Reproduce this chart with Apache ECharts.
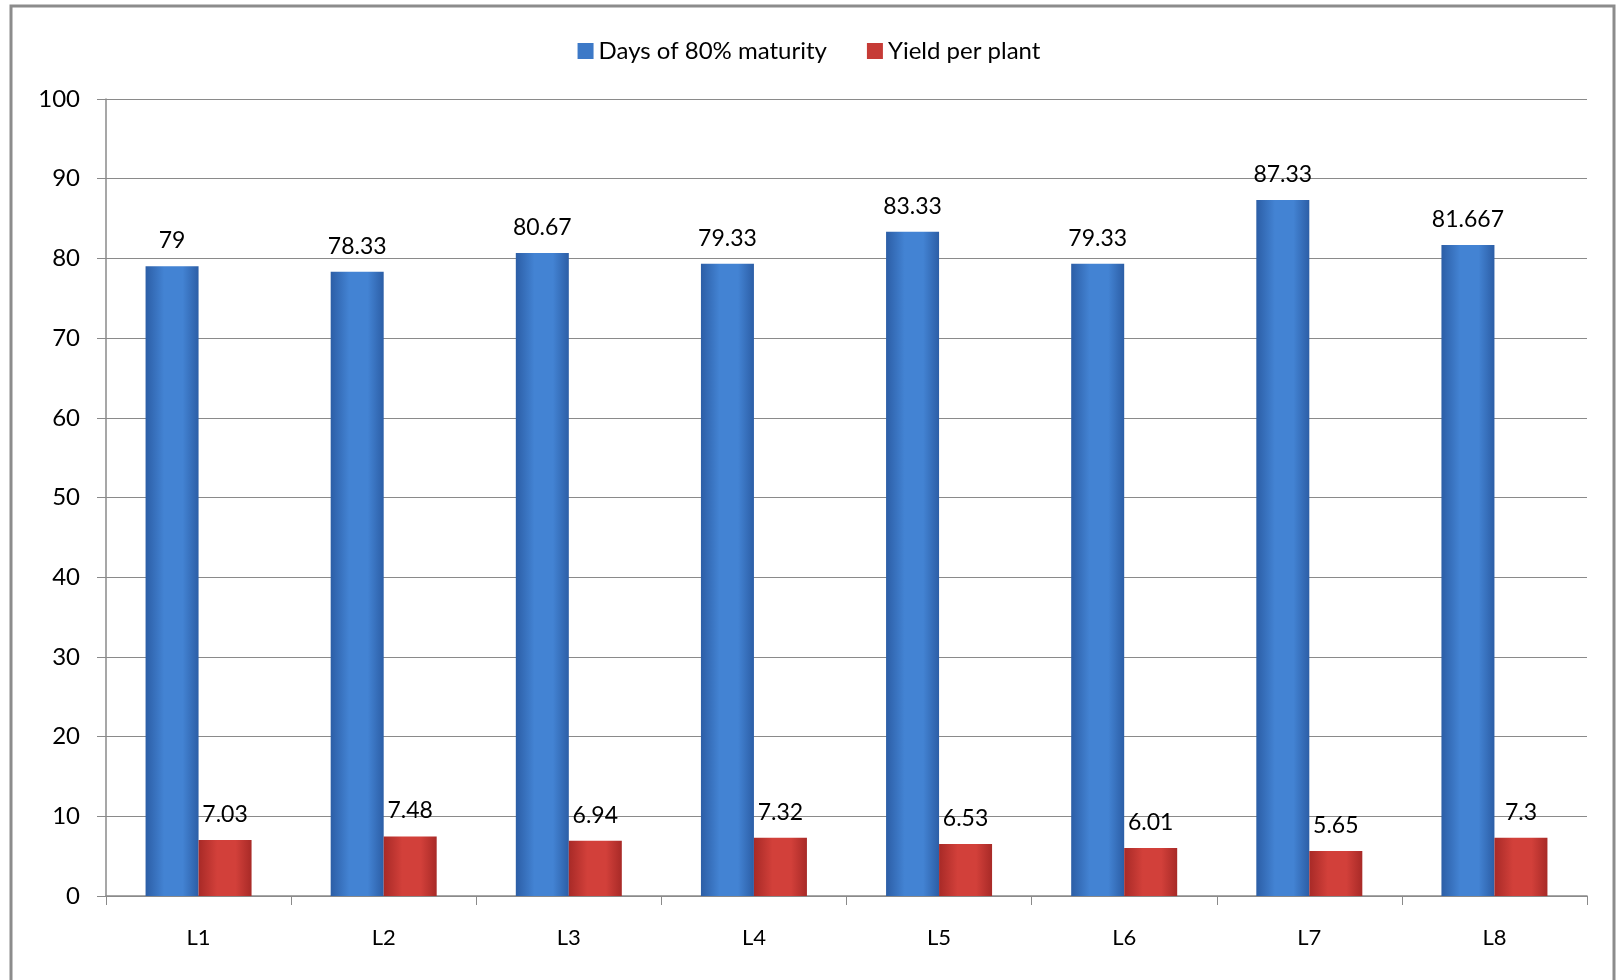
<!DOCTYPE html>
<html>
<head>
<meta charset="utf-8">
<script src="https://cdn.jsdelivr.net/npm/echarts@6/dist/echarts.min.js"></script>
<style>
  html, body { margin: 0; padding: 0; background: #fff; }
  #main { width: 1618px; height: 980px; }
</style>
</head>
<body>
<div id="main"></div>
<script>
var lines = ['L1', 'L2', 'L3', 'L4', 'L5', 'L6', 'L7', 'L8'];
var daysMaturity = [79, 78.33, 80.67, 79.33, 83.33, 79.33, 87.33, 81.667];
var yieldPlant = [7.03, 7.48, 6.94, 7.32, 6.53, 6.01, 5.65, 7.3];
var yTicks = [0, 100, 10]; // min, max, interval

var chart = echarts.init(document.getElementById('main'));

// glossy look: darker edges, lighter middle
function barColor(edge, mid) {
  return new echarts.graphic.LinearGradient(0, 0, 1, 0, [
    { offset: 0, color: edge },
    { offset: 0.35, color: mid },
    { offset: 0.7, color: mid },
    { offset: 1, color: edge }
  ]);
}

var font = 'Lato';

var option = {
  animation: false,
  backgroundColor: '#fff',
  graphic: [{
    type: 'rect',
    shape: { x: 11, y: 6, width: 1603, height: 980 },
    style: { fill: 'none', stroke: '#8c8c8c', lineWidth: 3 },
    silent: true
  }],
  legend: {
    top: 34,
    left: 'center',
    itemWidth: 16,
    itemHeight: 16,
    itemGap: 40,
    textStyle: { fontFamily: font, fontSize: 24, color: '#000' },
    data: [
      { name: 'Days of 80% maturity', icon: 'rect', itemStyle: { color: '#3d79c7' } },
      { name: 'Yield per plant', icon: 'rect', itemStyle: { color: '#c63b36' } }
    ]
  },
  grid: {
    left: 106,
    right: 31,
    top: 99,
    bottom: 84,
    containLabel: false
  },
  xAxis: {
    type: 'category',
    data: lines,
    axisLine: { lineStyle: { color: '#8a8a8a', width: 1.5 } },
    axisTick: { show: true, length: 9, lineStyle: { color: '#8a8a8a' } },
    axisLabel: { fontFamily: font, fontSize: 22, color: '#000', margin: 31 }
  },
  yAxis: {
    type: 'value',
    min: yTicks[0],
    max: yTicks[1],
    interval: yTicks[2],
    axisLine: { show: true, lineStyle: { color: '#8a8a8a', width: 1.5 } },
    axisTick: { show: true, length: 9, lineStyle: { color: '#8a8a8a' } },
    splitLine: { lineStyle: { color: '#8a8a8a', width: 1.2 } },
    axisLabel: { fontFamily: font, fontSize: 24, color: '#000', margin: 26 }
  },
  series: [
    {
      name: 'Days of 80% maturity',
      type: 'bar',
      data: daysMaturity,
      barWidth: 53,
      barGap: '0%',
      itemStyle: {
        color: barColor('#2c5ea6', '#4383d3')
      },
      label: {
        show: true,
        position: 'top',
        distance: 14,
        fontFamily: font,
        fontSize: 23,
        color: '#000'
      }
    },
    {
      name: 'Yield per plant',
      type: 'bar',
      data: yieldPlant,
      barWidth: 53,
      itemStyle: {
        color: barColor('#a82a27', '#d2403a')
      },
      label: {
        show: true,
        position: 'top',
        distance: 14,
        fontFamily: font,
        fontSize: 23,
        color: '#000'
      }
    }
  ]
};

chart.setOption(option);
</script>
</body>
</html>
